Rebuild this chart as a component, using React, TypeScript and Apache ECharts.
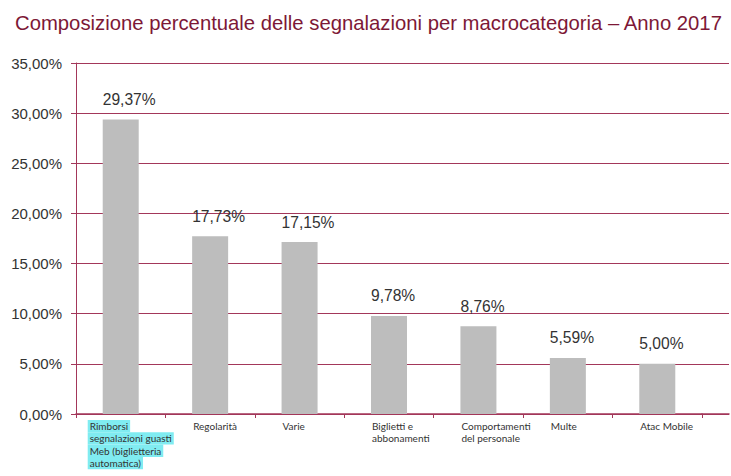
import React, { useEffect, useRef } from 'react';
import * as echarts from 'echarts';

const chartTitle = 'Composizione percentuale delle segnalazioni per macrocategoria – Anno 2017';
const categories = [
  'Rimborsi\nsegnalazioni guasti\nMeb (biglietteria\nautomatica)',
  'Regolarità',
  'Varie',
  'Biglietti e\nabbonamenti',
  'Comportamenti\ndel personale',
  'Multe',
  'Atac Mobile',
];
const values = [29.37, 17.73, 17.15, 9.78, 8.76, 5.59, 5.0];
const yMin = 0;
const yMax = 35;
const yStep = 5;

const fmt = (v: number) => v.toFixed(2).replace('.', ',') + '%';

const MAROON = '#a3375a';
const SANS = '"Liberation Sans", Arial, sans-serif';
const SMALL = 'Lato, "Open Sans", sans-serif';
const BAR_W = 36;

export default function App() {
  const ref = useRef<HTMLDivElement>(null);
  useEffect(() => {
    document.body.style.margin = '0';
    const chart = echarts.init(ref.current!, null, { renderer: 'svg' });
    chart.setOption({
      animation: false,
      backgroundColor: '#ffffff',
      title: {
        text: chartTitle,
        left: 10,
        top: 8,
        textStyle: { fontFamily: SANS, fontSize: 20.3, fontWeight: 'normal', color: '#7d1836' },
      },
      grid: [
        { left: 76, right: 29, top: 63, bottom: 62, containLabel: false },
        { left: 702, right: 2, top: 63, bottom: 62, containLabel: false },
      ],
      xAxis: [
        {
          type: 'category',
          gridIndex: 0,
          data: categories.map((c, i) =>
            i === 0
              ? { value: c, textStyle: { align: 'left', verticalAlign: 'top', padding: [0, 0, 0, -33] } }
              : c
          ),
          axisLine: { show: true, lineStyle: { color: MAROON, width: 1.5 } },
          axisTick: { show: true, length: 4, lineStyle: { color: MAROON } },
          axisLabel: {
            interval: 0,
            align: 'left',
            verticalAlign: 'top',
            padding: [0, 0, 0, -17],
            margin: 6,
            fontFamily: SMALL,
            fontSize: 10,
            lineHeight: 12.3,
            color: '#333',
            formatter: (val: string, idx: number) =>
              idx === 0 ? val.split('\n').map((l) => `{h|${l}}`).join('\n') : val,
            rich: {
              h: {
                backgroundColor: '#80ecf1',
                padding: [0, 2, 0, 2],
                fontFamily: SMALL,
                fontSize: 10,
                lineHeight: 12.3,
                height: 12.3,
                color: '#333',
                align: 'left',
              },
            },
          },
        },
        {
          type: 'value',
          gridIndex: 1,
          min: 0,
          max: 1,
          axisLine: { show: true, onZero: false, lineStyle: { color: MAROON, width: 1.5 } },
          axisTick: { show: false },
          axisLabel: { show: false },
          splitLine: { show: false },
        },
      ],
      yAxis: [
        {
          type: 'value',
          gridIndex: 0,
          min: yMin,
          max: yMax,
          interval: yStep,
          axisLine: { show: true, lineStyle: { color: MAROON, width: 1 } },
          axisTick: { show: true, length: 5, lineStyle: { color: MAROON } },
          axisLabel: {
            margin: 14,
            fontFamily: SANS,
            fontSize: 15,
            color: '#333',
            formatter: (v: number) => fmt(v),
          },
          splitLine: { show: true, lineStyle: { color: MAROON, width: 1 } },
        },
        {
          type: 'value',
          gridIndex: 1,
          min: yMin,
          max: yMax,
          interval: yStep,
          axisLine: { show: false },
          axisTick: { show: false },
          axisLabel: { show: false },
          splitLine: { show: true, lineStyle: { color: MAROON, width: 1 } },
        },
      ],
      series: [
        {
          type: 'bar',
          xAxisIndex: 0,
          yAxisIndex: 0,
          data: values,
          barWidth: BAR_W,
          itemStyle: { color: '#bdbdbd' },
          label: {
            show: true,
            position: 'top',
            align: 'left',
            offset: [-BAR_W / 2, 0],
            distance: 12,
            fontFamily: SANS,
            fontSize: 15.6,
            color: '#333',
            formatter: (p: any) => fmt(p.value),
          },
        },
      ],
    });
    return () => chart.dispose();
  }, []);
  return <div ref={ref} style={{ width: 731, height: 476 }} />;
}
